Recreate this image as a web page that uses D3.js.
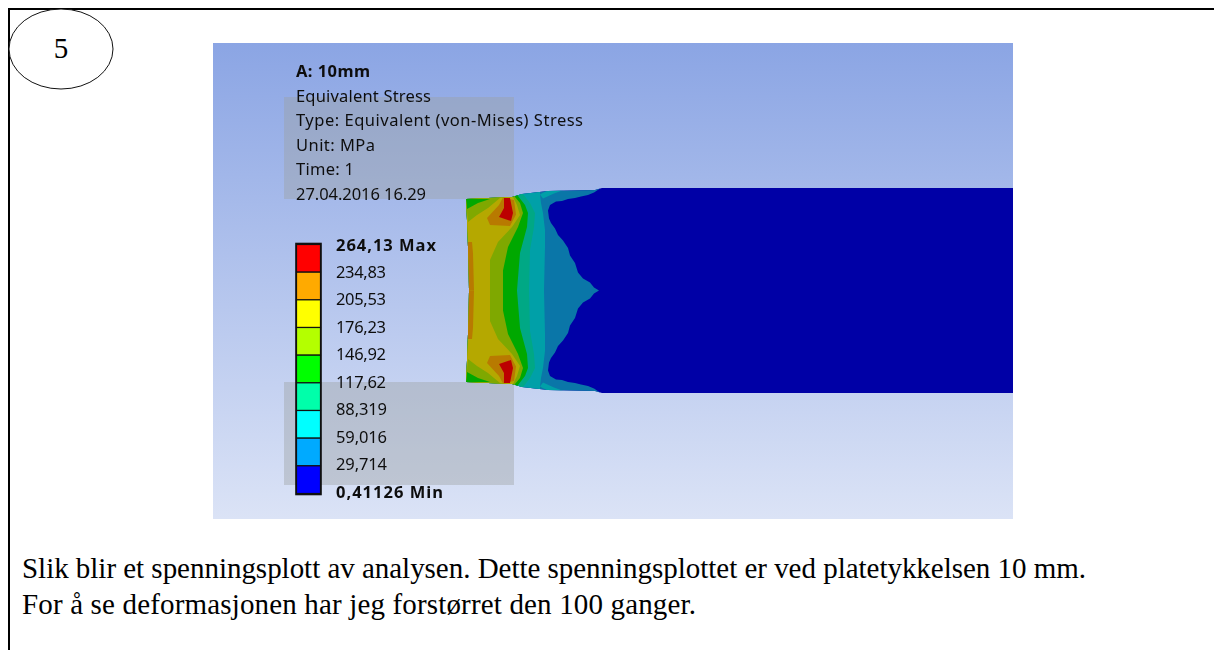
<!DOCTYPE html>
<html>
<head>
<meta charset="utf-8">
<script src="https://cdn.jsdelivr.net/npm/d3@7"></script>
<style>
  html, body { margin: 0; padding: 0; background: #fff; }
  svg { display: block; }
  .ansys { font-family: 'Noto Sans', sans-serif; fill: #111; filter: url(#soft); }
  .doc { font-family: 'Liberation Serif', serif; fill: #000; }
</style>
</head>
<body>
<svg id="plot" width="1214" height="650"></svg>
<script>
const infoLines = ['A: 10mm', 'Equivalent Stress', 'Type: Equivalent (von-Mises) Stress', 'Unit: MPa', 'Time: 1', '27.04.2016 16.29']
const legendLabels = ['264,13 Max', '234,83', '205,53', '176,23', '146,92', '117,62', '88,319', '59,016', '29,714', '0,41126 Min']
const legendColors = ['#ff0000', '#ffaa00', '#ffff00', '#b4ff00', '#00ff00', '#00ffaa', '#00ffff', '#00aaff', '#0000ff']
const captionLines = [
  'Slik blir et spenningsplott av analysen. Dette spenningsplottet er ved platetykkelsen 10 mm.',
  'For å se deformasjonen har jeg forstørret den 100 ganger.'
]

// model coordinates: x from the plate end, y from the mid plane, upper half only (mirrored when drawn)
const outline = [[3, 0], [2.5, 30], [1, 70], [0, 91.5], [46, 93.5], [56, 96.5], [82, 99.5], [129, 100.5], [136, 102.5], [547, 102.5], [547, 0]]
const darkBlueEdge = [[134, 102], [128, 98], [122, 95.5], [115, 94], [109, 92.5], [102, 91.5], [96, 89.5], [90, 89], [84, 85.5], [82, 80], [83, 72], [85, 67.5], [89, 62], [92, 55.5], [97, 50], [102, 42.5], [104, 35], [109, 27.5], [112, 18], [117, 12], [124, 8], [128, 3], [133, 0]]
const blueEdge = [[74, 95.5], [75, 87.5], [77, 77.5], [79, 60.5], [79, 43.5], [78, 0]]
const tealEdge = [[57, 96.5], [64, 87.5], [69, 77.5], [68, 63.5], [64, 40.5], [63, 0]]
const tealGreenEdge = [[52, 94.5], [59, 85.5], [62, 77.5], [61, 63.5], [54, 37.5], [51, 0]]
const greenEdge = [[49, 93.5], [54, 87.5], [57, 77.5], [52, 63.5], [42, 43.5], [37, 20], [37, 0]]
const limeEdge = [[47, 93.5], [51, 85.5], [54, 75.5], [46, 63.5], [32, 48.5], [24, 30.5], [24, 0]]

const tealSliver = [[74, 96], [82, 100.5], [99, 101], [88, 97], [77, 92]]
const limeCorner = [[0, 92], [34, 92.5], [22, 82.5], [11, 75.5], [2, 68.5]]
const greenCorner = [[0, 91.5], [24, 91.5], [12, 87.5], [1, 81.5]]
const orangeSpot = [[37, 93], [33, 85.5], [21, 72.5], [24, 65.5], [44, 64.5], [50, 76], [48, 90.5]]
const redSpot = [[38, 92.5], [44, 92.5], [47, 77.5], [45, 69.5], [33, 73.5], [38, 82.5]]
const orangeStrip = [[0, 48.5], [6, 48.5], [7, 37], [8, 0], [0, 0]]

const shadeDarkBlue = '#0000a6'
const shadeBlue = '#0a76a8'
const shadeTeal = '#00a0a8'
const shadeTealGreen = '#00a885'
const shadeGreen = '#00a800'
const shadeLime = '#7fa800'
const shadeYellow = '#b5a800'
const shadeOrange = '#b87a00'
const shadeRed = '#bc0000'

// rendered widths of the lines, the original font is not installed
const infoWidths = [74, 135, 287, 79, 58, 130]
const legendWidths = [100, 50, 50, 50, 50, 50, 51, 51, 51, 107]
const captionWidths = [1064, 674]

const svg = d3.select('#plot')
const defs = svg.append('defs')

defs.append('filter').attr('id', 'soft')
  .append('feGaussianBlur').attr('stdDeviation', 0.3)

const bg = defs.append('linearGradient').attr('id', 'bg')
  .attr('x1', 0).attr('x2', 0).attr('y1', 0).attr('y2', 1)
bg.append('stop').attr('offset', '0%').attr('stop-color', '#8ba5e4')
bg.append('stop').attr('offset', '100%').attr('stop-color', '#dbe3f6')

// page frame
svg.append('path')
  .attr('d', 'M9,650V9H1214')
  .attr('fill', 'none').attr('stroke', '#000').attr('stroke-width', 2)

svg.append('ellipse')
  .attr('cx', 61).attr('cy', 49).attr('rx', 52).attr('ry', 40)
  .attr('fill', '#fff').attr('stroke', '#111').attr('stroke-width', 1)
svg.append('text').attr('class', 'doc')
  .attr('x', 61).attr('y', 58).attr('text-anchor', 'middle')
  .attr('font-size', 29).text('5')

// screenshot background
svg.append('rect')
  .attr('x', 213).attr('y', 43).attr('width', 800).attr('height', 476)
  .attr('fill', 'url(#bg)')

svg.selectAll('rect.pane')
  .data([[284, 97], [284, 382]])
  .join('rect')
  .attr('class', 'pane')
  .attr('x', d => d[0]).attr('y', d => d[1])
  .attr('width', 230).attr('height', d => d[1] < 200 ? 102 : 103)
  .attr('fill', '#9a9f9f').attr('opacity', 0.4)

// contour plot
const scaleX = d3.scaleLinear().domain([0, 547]).range([466, 1013])
const scaleY = d3.scaleLinear().domain([-102.5, 102.5]).range([393, 188])
const line = d3.line().x(d => scaleX(d[0])).y(d => scaleY(d[1]))
const flip = points => points.map(d => [d[0], -d[1]])

function mirrored(points) {
  return points.concat(flip(points.slice().reverse()))
}
function leftOf(edge) {
  const top = [edge[0][0], 110]
  return [[-10, 110], top].concat(edge, flip(edge.slice().reverse()), [[edge[0][0], -110], [-10, -110]])
}

defs.append('clipPath').attr('id', 'model')
  .append('path').attr('d', line(mirrored(outline)) + 'Z')

const model = svg.append('g').attr('clip-path', 'url(#model)')

const bands = [
  [shadeDarkBlue, leftOf([[547, 110], [547, 0]])],
  [shadeBlue, leftOf(darkBlueEdge)],
  [shadeTeal, leftOf(blueEdge)],
  [shadeTeal, tealSliver],
  [shadeTeal, flip(tealSliver)],
  [shadeTealGreen, leftOf(tealEdge)],
  [shadeGreen, leftOf(tealGreenEdge)],
  [shadeLime, leftOf(greenEdge)],
  [shadeYellow, leftOf(limeEdge)],
  [shadeLime, limeCorner],
  [shadeLime, flip(limeCorner)],
  [shadeGreen, greenCorner],
  [shadeGreen, flip(greenCorner)],
  [shadeOrange, orangeStrip],
  [shadeOrange, flip(orangeStrip)],
  [shadeOrange, orangeSpot],
  [shadeOrange, flip(orangeSpot)],
  [shadeRed, redSpot],
  [shadeRed, flip(redSpot)]
]

model.selectAll('path')
  .data(bands)
  .join('path')
  .attr('d', d => line(d[1]) + 'Z')
  .attr('fill', d => d[0])

// info block
const infoY = d3.scalePoint().domain(infoLines).range([77, 199.5])
svg.selectAll('text.info')
  .data(infoLines)
  .join('text')
  .attr('class', 'info ansys')
  .attr('x', 296)
  .attr('y', d => infoY(d))
  .attr('font-size', 16.5)
  .attr('font-weight', (d, i) => i === 0 ? 'bold' : 'normal')
  .attr('textLength', (d, i) => infoWidths[i])
  .text(d => d)

// legend
const cellY = d3.scaleBand().domain(d3.range(legendColors.length)).range([244.5, 493.5])
svg.selectAll('rect.cell')
  .data(legendColors)
  .join('rect')
  .attr('class', 'cell')
  .attr('x', 296.5)
  .attr('y', (d, i) => cellY(i))
  .attr('width', 24)
  .attr('height', cellY.bandwidth())
  .attr('fill', d => d)
  .attr('stroke', '#111')
  .attr('stroke-width', 1.2)

svg.append('rect')
  .attr('x', 296).attr('y', 243.5).attr('width', 25).attr('height', 251)
  .attr('fill', 'none').attr('stroke', '#111').attr('stroke-width', 1.6)

const labelY = d3.scalePoint().domain(legendLabels).range([250.5, 497.5])
svg.selectAll('text.legend')
  .data(legendLabels)
  .join('text')
  .attr('class', 'legend ansys')
  .attr('x', 336)
  .attr('y', d => labelY(d))
  .attr('font-size', 16.5)
  .attr('font-weight', (d, i) => i === 0 || i === legendLabels.length - 1 ? 'bold' : 'normal')
  .attr('textLength', (d, i) => legendWidths[i])
  .text(d => d)

// caption
svg.selectAll('text.caption')
  .data(captionLines)
  .join('text')
  .attr('class', 'caption doc')
  .attr('x', 22)
  .attr('y', (d, i) => 578 + i * 36)
  .attr('font-size', 29)
  .attr('textLength', (d, i) => captionWidths[i])
  .text(d => d)
</script>
</body>
</html>
